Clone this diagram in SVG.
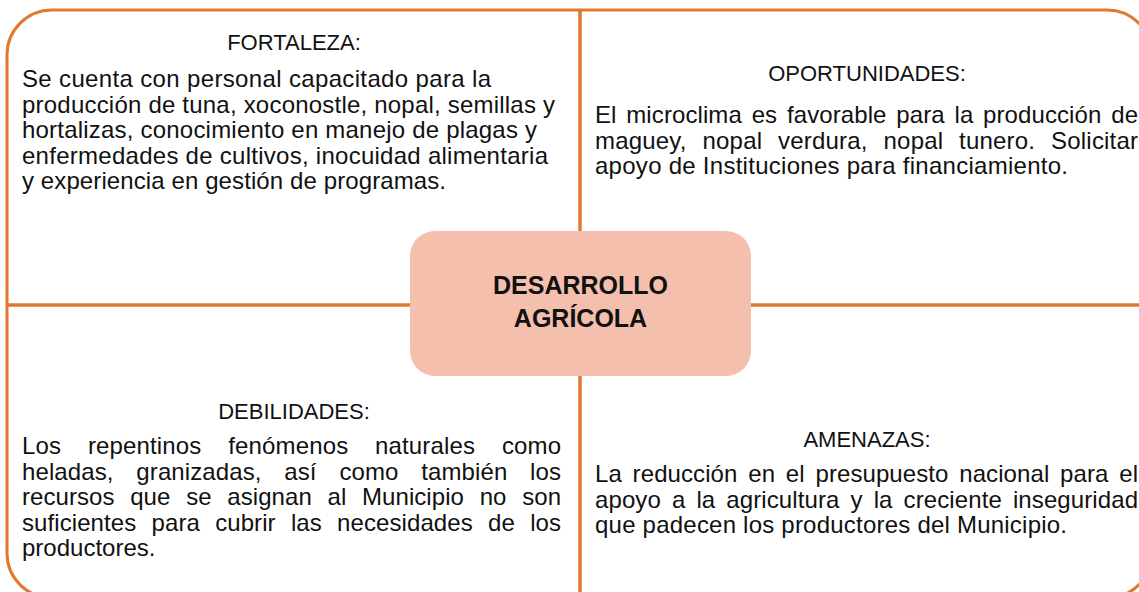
<svg xmlns="http://www.w3.org/2000/svg" width="1139" height="592" viewBox="0 0 1139 592">
<style>
.frame{fill:none;stroke:#E0792F;stroke-width:3}
.line{stroke:#E0792F;stroke-width:3.5;fill:none}
.t{font-family:"Liberation Sans",Arial,sans-serif;font-size:24px;fill:#111}
.lbl{font-family:"Liberation Sans",Arial,sans-serif;font-size:22px;fill:#111;text-anchor:middle}
.ctr{font-family:"Liberation Sans",Arial,sans-serif;font-size:25px;font-weight:bold;fill:#111;text-anchor:middle}
</style>
<rect width="1139" height="592" fill="#fff"/>
<g id="frame">
<rect class="frame" x="7" y="10" width="1145" height="588" rx="45" ry="45"/>
</g>
<g id="connectors">
<line class="line" x1="580" y1="10" x2="580" y2="598"/>
<line class="line" x1="7" y1="305" x2="1152" y2="305"/>
</g>
<g id="fortaleza">
<text class="lbl" x="294" y="50">FORTALEZA:</text>
<text class="t" x="22" y="87" textLength="469" lengthAdjust="spacing">Se cuenta con personal capacitado para la</text>
<text class="t" x="22" y="112.5" textLength="533" lengthAdjust="spacing">producción de tuna, xoconostle, nopal, semillas y</text>
<text class="t" x="22" y="138" textLength="515" lengthAdjust="spacing">hortalizas, conocimiento en manejo de plagas y</text>
<text class="t" x="22" y="163.5" textLength="526" lengthAdjust="spacing">enfermedades de cultivos, inocuidad alimentaria</text>
<text class="t" x="22" y="189" textLength="424" lengthAdjust="spacing">y experiencia en gestión de programas.</text>
</g>
<g id="oportunidades">
<text class="lbl" x="867" y="81">OPORTUNIDADES:</text>
<text class="t" x="595" y="123" word-spacing="3" textLength="543" lengthAdjust="spacing">El microclima es favorable para la producción de</text>
<text class="t" x="595" y="148.5" word-spacing="9" textLength="543" lengthAdjust="spacing">maguey, nopal verdura, nopal tunero. Solicitar</text>
<text class="t" x="595" y="174" textLength="473" lengthAdjust="spacing">apoyo de Instituciones para financiamiento.</text>
</g>
<g id="debilidades">
<text class="lbl" x="294" y="419">DEBILIDADES:</text>
<text class="t" x="22" y="454" word-spacing="20" textLength="539" lengthAdjust="spacing">Los repentinos fenómenos naturales como</text>
<text class="t" x="22" y="479.5" word-spacing="16" textLength="539" lengthAdjust="spacing">heladas, granizadas, así como también los</text>
<text class="t" x="22" y="505" word-spacing="9" textLength="539" lengthAdjust="spacing">recursos que se asignan al Municipio no son</text>
<text class="t" x="22" y="530.5" word-spacing="8.5" textLength="539" lengthAdjust="spacing">suficientes para cubrir las necesidades de los</text>
<text class="t" x="22" y="556">productores.</text>
</g>
<g id="amenazas">
<text class="lbl" x="867" y="447">AMENAZAS:</text>
<text class="t" x="595" y="482" word-spacing="4" textLength="543" lengthAdjust="spacing">La reducción en el presupuesto nacional para el</text>
<text class="t" x="595" y="507.5" word-spacing="4.3" textLength="543" lengthAdjust="spacing">apoyo a la agricultura y la creciente inseguridad</text>
<text class="t" x="595" y="533" textLength="472" lengthAdjust="spacing">que padecen los productores del Municipio.</text>
</g>
<g id="centro">
<rect x="410" y="231" width="341" height="145" rx="25" ry="25" fill="#F4BFAC"/>
<text class="ctr" x="580.5" y="294">DESARROLLO</text>
<text class="ctr" x="580.5" y="327">AGRÍCOLA</text>
</g>
</svg>
